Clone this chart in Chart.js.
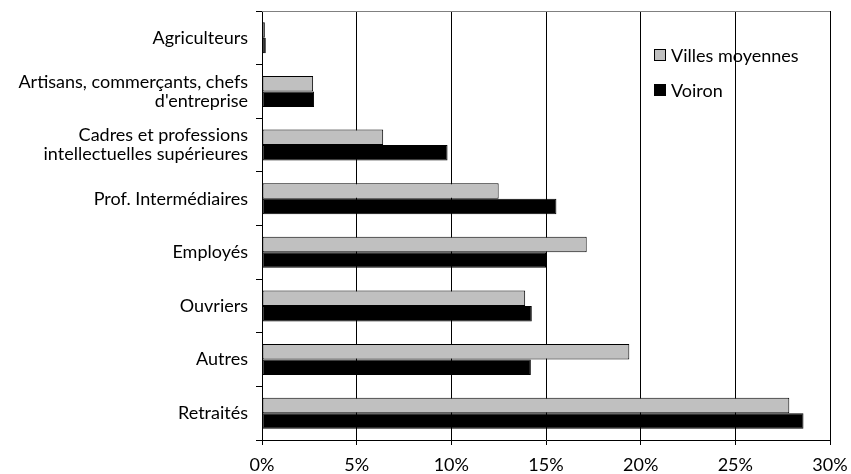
<!DOCTYPE html>
<html>
<head>
<meta charset="utf-8">
<script src="https://cdn.jsdelivr.net/npm/chart.js@4/dist/chart.umd.min.js"></script>
<style>
  html, body { margin: 0; padding: 0; background: #fff; }
  #wrap { width: 851px; height: 474px; }
</style>
</head>
<body>
<div id="wrap"><canvas id="barChart"></canvas></div>
<script>
const categories = [
    'Agriculteurs',
    ['Artisans, commerçants, chefs', "d'entreprise"],
    ['Cadres et professions', 'intellectuelles supérieures'],
    'Prof. Intermédiaires',
    'Employés',
    'Ouvriers',
    'Autres',
    'Retraités'
];
const villesMoyennes = [0.15, 2.7, 6.4, 12.5, 17.15, 13.9, 19.4, 27.85];
const voiron = [0.2, 2.75, 9.8, 15.55, 15.0, 14.25, 14.2, 28.6];
const seriesNames = ['Villes moyennes', 'Voiron'];
const xTicks = [0, 5, 10, 15, 20, 25, 30];

const FONT = 'Lato, "Open Sans", sans-serif';

// legend drawn inside the plot area, like the original
const insideLegend = {
    id: 'insideLegend',
    afterDraw(chart) {
        const ctx = chart.ctx;
        ctx.save();
        // top border of plot area
        const a = chart.chartArea;
        ctx.strokeStyle = '#808080';
        ctx.lineWidth = 1;
        ctx.beginPath();
        ctx.moveTo(a.left, a.top + 0.5);
        ctx.lineTo(a.right, a.top + 0.5);
        ctx.stroke();

        ctx.font = '18px ' + FONT;
        ctx.textBaseline = 'middle';
        chart.data.datasets.forEach(function (ds, i) {
            const y = 55 + i * 35;
            ctx.fillStyle = ds.backgroundColor;
            ctx.fillRect(654.5, y - 5.5, 11, 11);
            ctx.strokeStyle = '#000';
            ctx.strokeRect(654.5, y - 5.5, 11, 11);
            ctx.fillStyle = '#000';
            ctx.fillText(ds.label, 671, y + 1);
        });
        ctx.restore();
    }
};

let chartConfig = {
    type: 'bar',
    data: {
        labels: categories,
        datasets: [{
            label: seriesNames[0],
            data: villesMoyennes,
            backgroundColor: '#C0C0C0',
            borderColor: '#000000',
            borderWidth: 1,
            borderSkipped: false,
            categoryPercentage: 0.58,
            barPercentage: 1.0
        }, {
            label: seriesNames[1],
            data: voiron,
            backgroundColor: '#000000',
            borderColor: '#000000',
            borderWidth: 1,
            borderSkipped: false,
            categoryPercentage: 0.58,
            barPercentage: 1.0
        }]
    },
    plugins: [insideLegend],
    options: {
        indexAxis: 'y',
        responsive: true,
        maintainAspectRatio: false,
        animation: false,
        layout: {
            padding: { left: 0, right: 21, top: 11, bottom: 0 }
        },
        plugins: {
            legend: { display: false },
            tooltip: { enabled: false }
        },
        scales: {
            x: {
                min: 0,
                max: 30,
                afterBuildTicks: function (scale) {
                    scale.ticks = xTicks.map(v => ({ value: v }));
                },
                afterFit: function (scale) {
                    scale.height = 34;
                    scale.paddingLeft = 0;
                    scale.paddingRight = 0;
                },
                ticks: {
                    color: '#000',
                    font: { family: FONT, size: 18 },
                    padding: 9,
                    maxRotation: 0,
                    callback: v => v + '%'
                },
                grid: {
                    color: '#000',
                    lineWidth: 1,
                    drawOnChartArea: true,
                    drawTicks: true,
                    tickLength: 5
                },
                border: { color: '#000', width: 1 }
            },
            y: {
                afterFit: function (scale) {
                    scale.width = 262;
                    scale.paddingTop = 0;
                    scale.paddingBottom = 0;
                },
                ticks: {
                    color: '#000',
                    font: { family: FONT, size: 18, lineHeight: 1.05 },
                    padding: 8
                },
                grid: {
                    offset: true,
                    drawOnChartArea: false,
                    drawTicks: true,
                    tickLength: 6,
                    color: '#000'
                },
                border: { color: '#000', width: 1 }
            }
        }
    }
};

window.onload = function () {
    const ctx = document.getElementById('barChart').getContext('2d');
    window.myBar = new Chart(ctx, chartConfig);
};
</script>
</body>
</html>
